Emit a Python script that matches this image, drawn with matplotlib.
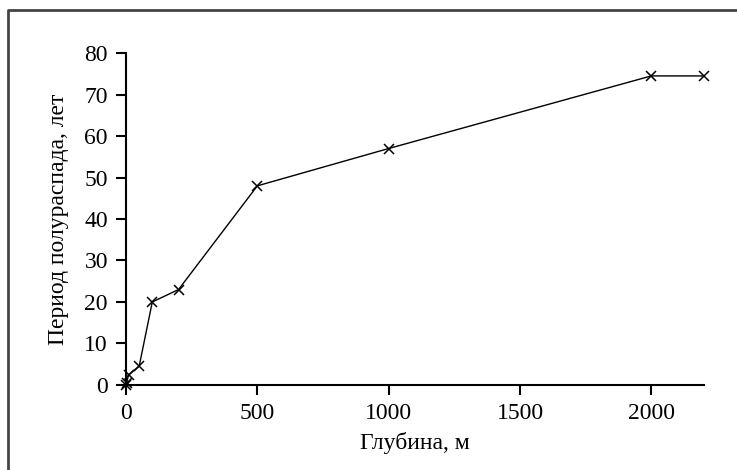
import matplotlib
matplotlib.use("Agg")
import matplotlib.pyplot as plt
from matplotlib.lines import Line2D

depth = [0, 2, 10, 50, 100, 200, 500, 1000, 2000, 2200]
half_life = [0, 0.5, 2.5, 4.5, 20, 23, 48, 57, 74.5, 74.5]
xticks = [0, 500, 1000, 1500, 2000]
yticks = [0, 10, 20, 30, 40, 50, 60, 70, 80]

plt.rcParams['font.family'] = ['Liberation Serif', 'DejaVu Serif']

fig = plt.figure(figsize=(7.37, 4.70), dpi=100)
ax = fig.add_axes([0.171, 0.181, 0.784, 0.706])
ax.plot(depth, half_life, color='black', lw=1.0, marker='x', ms=7, mew=1.1, clip_on=False, zorder=5)
ax.set_xlim(0, 2200)
ax.set_ylim(0, 80)
ax.set_xticks(xticks)
ax.set_yticks(yticks)
for s in ['top', 'right']:
    ax.spines[s].set_visible(False)
for s in ['left', 'bottom']:
    ax.spines[s].set_linewidth(1.5)
ax.tick_params(direction='out', length=7, width=1.5, labelsize=17, pad=6)
ax.set_xlabel('Глубина, м', fontsize=17, labelpad=6)
ax.set_ylabel('Период полураспада, лет', fontsize=17, labelpad=11)

fig.add_artist(Line2D([0.011, 0.011, 1.0], [0.0, 0.978, 0.978], transform=fig.transFigure,
                      color='#444444', lw=2.0))
fig.savefig('out.png', dpi=100)
